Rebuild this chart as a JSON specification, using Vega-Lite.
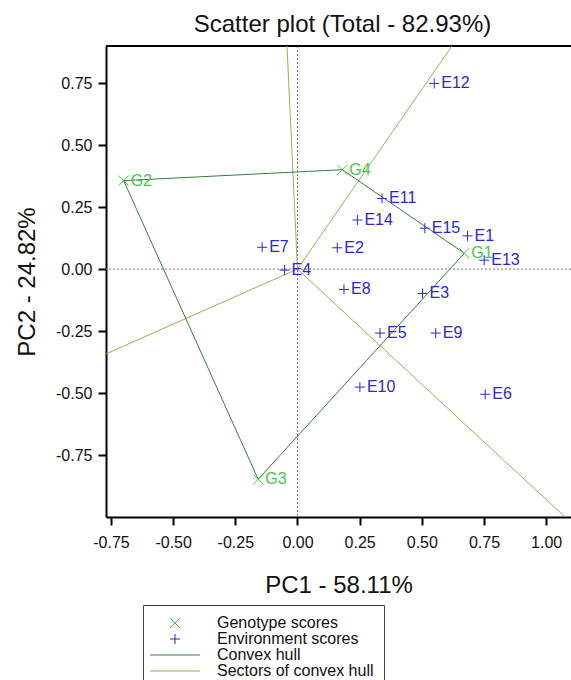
{
  "$schema": "https://vega.github.io/schema/vega-lite/v6.json",
  "width": 465,
  "height": 471,
  "autosize": {"type": "none"},
  "padding": {"left": 106, "top": 46, "right": 0, "bottom": 163},
  "background": "white",
  "title": {"text": "Scatter plot (Total - 82.93%)", "fontSize": 24, "font": "Liberation Sans", "fontWeight": "normal", "color": "#111", "offset": 8, "dx": 4},
  "config": {
    "view": {"stroke": null},
    "font": "Liberation Sans",
    "axis": {"grid": false, "domainColor": "#000", "domainWidth": 2, "tickColor": "#000", "tickWidth": 2, "tickSize": 8, "labelFont": "Liberation Sans", "labelFontSize": 16, "labelColor": "#111", "titleFont": "Liberation Sans", "titleFontSize": 24, "titleFontWeight": "normal", "titleColor": "#111"}
  },
  "datasets": {
    "one": [{"k": 1}],
    "pts": [
      {"name": "G1", "pc1": 0.671, "pc2": 0.064, "series": "Genotype scores"},
      {"name": "G2", "pc1": -0.699, "pc2": 0.357, "series": "Genotype scores"},
      {"name": "G3", "pc1": -0.158, "pc2": -0.848, "series": "Genotype scores"},
      {"name": "G4", "pc1": 0.180, "pc2": 0.401, "series": "Genotype scores"},
      {"name": "E1", "pc1": 0.684, "pc2": 0.134, "series": "Environment scores"},
      {"name": "E2", "pc1": 0.160, "pc2": 0.086, "series": "Environment scores"},
      {"name": "E3", "pc1": 0.503, "pc2": -0.098, "series": "Environment scores"},
      {"name": "E4", "pc1": -0.052, "pc2": -0.004, "series": "Environment scores"},
      {"name": "E5", "pc1": 0.332, "pc2": -0.258, "series": "Environment scores"},
      {"name": "E6", "pc1": 0.755, "pc2": -0.505, "series": "Environment scores"},
      {"name": "E7", "pc1": -0.142, "pc2": 0.088, "series": "Environment scores"},
      {"name": "E8", "pc1": 0.187, "pc2": -0.082, "series": "Environment scores"},
      {"name": "E9", "pc1": 0.556, "pc2": -0.258, "series": "Environment scores"},
      {"name": "E10", "pc1": 0.251, "pc2": -0.476, "series": "Environment scores"},
      {"name": "E11", "pc1": 0.340, "pc2": 0.285, "series": "Environment scores"},
      {"name": "E12", "pc1": 0.550, "pc2": 0.749, "series": "Environment scores"},
      {"name": "E13", "pc1": 0.751, "pc2": 0.036, "series": "Environment scores"},
      {"name": "E14", "pc1": 0.241, "pc2": 0.198, "series": "Environment scores"},
      {"name": "E15", "pc1": 0.512, "pc2": 0.165, "series": "Environment scores"}
    ],
    "hull": [
      {"ord": 1, "pc1": -0.699, "pc2": 0.357, "series": "Convex hull"},
      {"ord": 2, "pc1": 0.180, "pc2": 0.401, "series": "Convex hull"},
      {"ord": 3, "pc1": 0.671, "pc2": 0.064, "series": "Convex hull"},
      {"ord": 4, "pc1": -0.158, "pc2": -0.848, "series": "Convex hull"},
      {"ord": 5, "pc1": -0.699, "pc2": 0.357, "series": "Convex hull"}
    ],
    "sectors": [
      {"x0": 0, "y0": 0, "x1": -0.042, "y1": 0.9, "series": "Sectors of convex hull"},
      {"x0": 0, "y0": 0, "x1": 0.621, "y1": 0.9, "series": "Sectors of convex hull"},
      {"x0": 0, "y0": 0, "x1": 1.076, "y1": -1.0, "series": "Sectors of convex hull"},
      {"x0": 0, "y0": 0, "x1": -0.77, "y1": -0.342, "series": "Sectors of convex hull"}
    ]
  },
  "layer": [
    {
      "data": {"name": "one"},
      "mark": {"type": "rule", "color": "#777", "strokeDash": [2, 2], "strokeWidth": 1},
      "encoding": {"x": {"datum": 0, "type": "quantitative"}}
    },
    {
      "data": {"name": "one"},
      "mark": {"type": "rule", "color": "#777", "strokeDash": [2, 2], "strokeWidth": 1},
      "encoding": {"y": {"datum": 0, "type": "quantitative"}}
    },
    {
      "data": {"name": "one"},
      "mark": {"type": "rule", "color": "#000", "strokeWidth": 2},
      "encoding": {"y": {"datum": 0.9, "type": "quantitative"}}
    },
    {
      "data": {"name": "sectors"},
      "mark": {"type": "rule", "strokeWidth": 1, "clip": true},
      "encoding": {
        "x": {"field": "x0", "type": "quantitative"},
        "y": {"field": "y0", "type": "quantitative"},
        "x2": {"field": "x1"},
        "y2": {"field": "y1"},
        "color": {"field": "series", "type": "nominal"}
      }
    },
    {
      "data": {"name": "hull"},
      "mark": {"type": "line", "strokeWidth": 1},
      "encoding": {
        "x": {"field": "pc1", "type": "quantitative"},
        "y": {"field": "pc2", "type": "quantitative"},
        "order": {"field": "ord", "type": "quantitative"},
        "color": {"field": "series", "type": "nominal"}
      }
    },
    {
      "data": {"name": "pts"},
      "mark": {"type": "point", "filled": false, "size": 100, "strokeWidth": 1, "opacity": 1},
      "encoding": {
        "x": {"field": "pc1", "type": "quantitative", "scale": {"domain": [-0.77, 1.10], "nice": false, "zero": false},
          "axis": {"values": [-0.75, -0.5, -0.25, 0, 0.25, 0.5, 0.75, 1.0], "labelExpr": "replace(format(datum.value, '.2f'), '\u2212', '-')", "title": "PC1 - 58.11%", "labelPadding": 9, "titlePadding": 23}},
        "y": {"field": "pc2", "type": "quantitative", "scale": {"domain": [-1.0, 0.9], "nice": false, "zero": false},
          "axis": {"values": [-0.75, -0.5, -0.25, 0, 0.25, 0.5, 0.75], "labelExpr": "replace(format(datum.value, '.2f'), '\u2212', '-')", "title": "PC2 - 24.82%", "labelPadding": 6, "titlePadding": 16}},
        "shape": {"field": "series", "type": "nominal",
          "scale": {"domain": ["Genotype scores", "Environment scores", "Convex hull", "Sectors of convex hull"],
            "range": ["M-1,-1L1,1M-1,1L1,-1", "M-1,0H1M0,-1V1", "M-5,0H5", "M-5,0H5"]}},
        "color": {"field": "series", "type": "nominal",
          "scale": {"domain": ["Genotype scores", "Environment scores", "Convex hull", "Sectors of convex hull"],
            "range": ["#44c844", "#2a2acc", "#357f42", "#a8a858"]},
          "legend": {"title": null, "orient": "none", "legendX": 37, "legendY": 559, "padding": 10, "strokeColor": "#444", "fillColor": "white",
            "labelFontSize": 16, "labelFont": "Liberation Sans", "labelColor": "#111", "labelLimit": 300, "symbolSize": 100, "symbolStrokeWidth": 1,
            "symbolOffset": 14, "labelOffset": 34, "rowPadding": 0, "symbolFillColor": "transparent"}}
      }
    },
    {
      "data": {"name": "pts"},
      "mark": {"type": "text", "align": "left", "baseline": "middle", "dx": 7, "fontSize": 16, "font": "Liberation Sans"},
      "encoding": {
        "x": {"field": "pc1", "type": "quantitative"},
        "y": {"field": "pc2", "type": "quantitative"},
        "text": {"field": "name"},
        "color": {"field": "series", "type": "nominal", "legend": null}
      }
    }
  ]
}
